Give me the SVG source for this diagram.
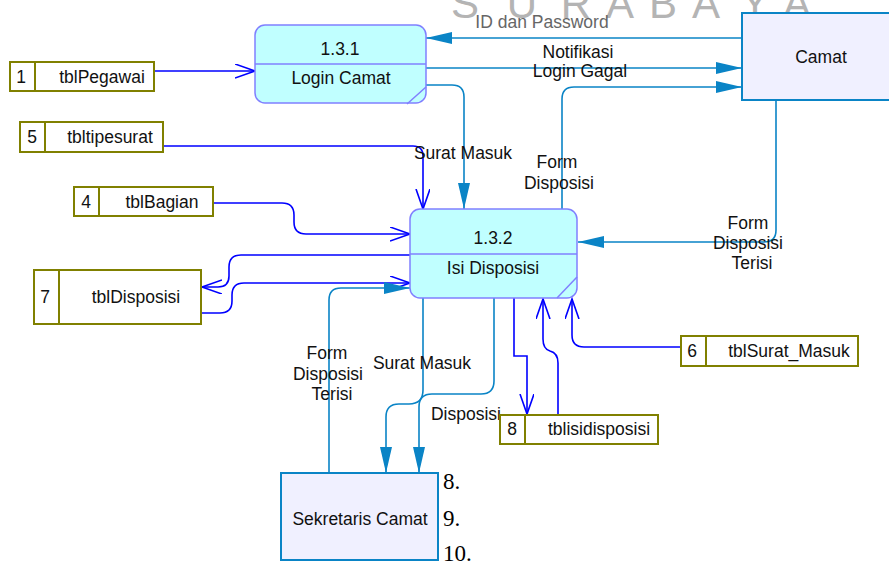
<svg xmlns="http://www.w3.org/2000/svg" width="889" height="562" viewBox="0 0 889 562">
<style>
text{font-family:"Liberation Sans",Arial,sans-serif;font-size:17.5px;fill:#111;}
.c{text-anchor:middle;}
.proc{fill:#C0FFFF;stroke:#8080FF;stroke-width:1.5;}
.pl{fill:none;stroke:#8080FF;stroke-width:1.5;}
.ds{fill:#FFFFFF;stroke:#808000;stroke-width:2;}
.ext{fill:#F0F0FF;stroke:#0A84C6;stroke-width:2;}
.b{fill:none;stroke:#0000FF;stroke-width:1.6;marker-end:url(#open);}
.t{fill:none;stroke:#0A84C6;stroke-width:1.6;marker-end:url(#fill);}
.wm{font-size:42px;fill:#B4B4B4;}
.ser{font-family:"Liberation Serif","Times New Roman",serif;font-size:23px;fill:#000;}
.gray{fill:#666;}
</style>
<defs>
<marker id="open" markerUnits="userSpaceOnUse" markerWidth="24" markerHeight="18" refX="20" refY="7" orient="auto">
<path d="M0,0 L20,7 L0,14" fill="none" stroke="#0000FF" stroke-width="1.6"/>
</marker>
<marker id="fill" markerUnits="userSpaceOnUse" markerWidth="28" markerHeight="14" refX="26" refY="6" orient="auto">
<path d="M0,0 L26,6 L0,12 z" fill="#0A84C6"/>
</marker>
</defs>
<rect width="889" height="562" fill="#FFFFFF"/>
<text class="wm c" x="465 522 576 620 663 706 755 797" y="18">SURABAYA</text>

<g id="connectors">
<path class="b" d="M154,71 H255"/>
<path class="b" d="M163,146 H413 Q423,146 423,156 V209"/>
<path class="b" d="M213,203 H282 Q294,203 294,215 V222 Q294,234 306,234 H410"/>
<path class="b" d="M410,255 H241 Q229,255 229,267 V276 Q229,287 218,287 H202"/>
<path class="b" d="M201,313 H220 Q232,313 232,301 V295 Q232,283 244,283 H410"/>
<path class="t" d="M329,473 V300 Q329,288 341,288 H410"/>
<path class="t" d="M423,298 V390 Q423,404 409,404 H399 Q386,404 386,417 V473"/>
<path class="t" d="M494,298 V381 Q494,394 481,394 H432 Q419,394 419,407 V473"/>
<path class="b" d="M514,298 V356 H527 V414"/>
<path class="b" d="M558,415 V363 Q558,353 550,351 Q543,349 543,339 V299"/>
<path class="b" d="M681,347 H584 Q572,347 572,335 V299"/>
<path class="t" d="M776,100 V230 Q776,242 764,242 H578"/>
<path class="t" d="M742,38 H426"/>
<path class="t" d="M426,68 H742"/>
<path class="t" d="M562,209 V99 Q562,87 574,87 H742"/>
<path class="t" d="M426,85 H452 Q464,85 464,97 V209"/>
<text class="c gray" x="542" y="28">ID dan Password</text>
<text class="c" x="578" y="58">Notifikasi</text>
<text class="c" x="580" y="77">Login Gagal</text>
<text class="c" x="463" y="159">Surat Masuk</text>
<text class="c" x="557" y="168">Form</text>
<text class="c" x="559" y="189">Disposisi</text>
<text class="c" x="748" y="229">Form</text>
<text class="c" x="748" y="249">Disposisi</text>
<text class="c" x="752" y="269">Terisi</text>
<text class="c" x="327" y="359">Form</text>
<text class="c" x="328" y="380">Disposisi</text>
<text class="c" x="332" y="400">Terisi</text>
<text class="c" x="422" y="369">Surat Masuk</text>
<text class="c" x="466" y="420">Disposisi</text>
</g>

<g id="p131">
<rect class="proc" x="255" y="25" width="171" height="78" rx="10"/>
<line class="pl" x1="255" y1="64" x2="426" y2="64"/>
<line class="pl" x1="407" y1="104" x2="426" y2="87"/>
<text class="c" x="340" y="55">1.3.1</text>
<text class="c" x="341" y="84">Login Camat</text>
</g>

<g id="p132">
<rect class="proc" x="410" y="209" width="167" height="89" rx="10"/>
<line class="pl" x1="410" y1="254" x2="577" y2="254"/>
<line class="pl" x1="557" y1="298" x2="577" y2="277"/>
<text class="c" x="493" y="244">1.3.2</text>
<text class="c" x="493" y="274">Isi Disposisi</text>
</g>

<g id="camat">
<rect class="ext" x="742" y="13" width="170" height="87"/>
<text class="c" x="821" y="63">Camat</text>
</g>

<g id="sekretaris">
<rect class="ext" x="281" y="473" width="157" height="87"/>
<text class="c" x="360" y="525">Sekretaris Camat</text>
</g>

<g id="ds1">
<rect class="ds" x="10" y="62" width="144" height="29"/>
<line class="ds" x1="35" y1="62" x2="35" y2="91"/>
<text class="c" x="21" y="83">1</text>
<text class="c" x="102" y="83">tblPegawai</text>
</g>

<g id="ds5">
<rect class="ds" x="20" y="122" width="143" height="30"/>
<line class="ds" x1="45" y1="122" x2="45" y2="152"/>
<text class="c" x="32" y="143">5</text>
<text class="c" x="110" y="143">tbltipesurat</text>
</g>

<g id="ds4">
<rect class="ds" x="74" y="187" width="139" height="29"/>
<line class="ds" x1="99" y1="187" x2="99" y2="216"/>
<text class="c" x="86" y="208">4</text>
<text class="c" x="162" y="208">tblBagian</text>
</g>

<g id="ds7">
<rect class="ds" x="34" y="270" width="167" height="54"/>
<line class="ds" x1="59" y1="270" x2="59" y2="324"/>
<text class="c" x="45" y="303">7</text>
<text class="c" x="136" y="303">tblDisposisi</text>
</g>

<g id="ds6">
<rect class="ds" x="681" y="336" width="177" height="30"/>
<line class="ds" x1="706" y1="336" x2="706" y2="366"/>
<text class="c" x="692" y="357">6</text>
<text class="c" x="789" y="357">tblSurat_Masuk</text>
</g>

<g id="ds8">
<rect class="ds" x="500" y="415" width="158" height="29"/>
<line class="ds" x1="525" y1="415" x2="525" y2="444"/>
<text class="c" x="512" y="435">8</text>
<text class="c" x="599" y="435">tblisidisposisi</text>
</g>

<text class="ser" x="443" y="489">8.</text>
<text class="ser" x="443" y="526">9.</text>
<text class="ser" x="443" y="561">10.</text>
</svg>
